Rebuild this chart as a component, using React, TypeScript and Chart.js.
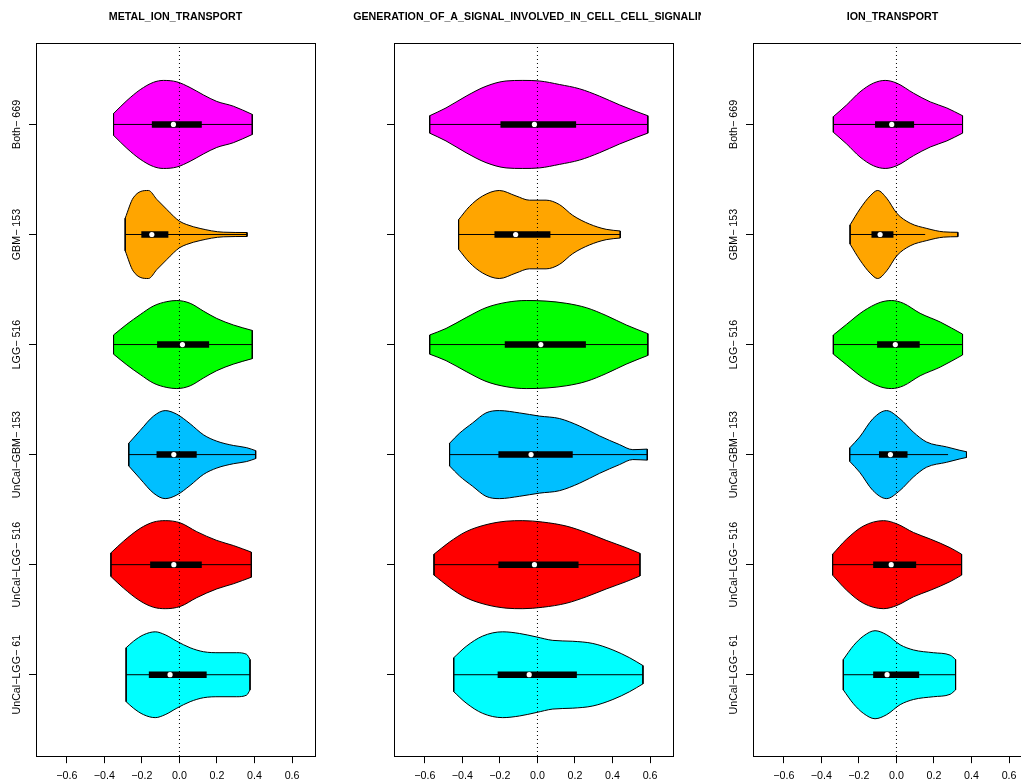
import React, { useEffect, useRef } from "react";
import { Chart, registerables } from "chart.js";

Chart.register(...registerables);

const FONT = "'Liberation Sans', Arial, Helvetica, sans-serif";

// ---------- shared ----------
const groupLabels = ["Both\u2212 669", "GBM\u2212 153", "LGG\u2212 516", "UnCal\u2212GBM\u2212 153", "UnCal\u2212LGG\u2212 516", "UnCal\u2212LGG\u2212 61"];
const groupPositions = [1, 2, 3, 4, 5, 6];
const violinColors = ["#FF00FF", "#FFA500", "#00FF00", "#00BFFF", "#FF0000", "#00FFFF"];
const xTicks = [-0.6, -0.4, -0.2, 0.0, 0.2, 0.4, 0.6];
const X_MIN = -0.764;
const X_MAX = 0.722;
const Y_MIN = 0.26;
const Y_MAX = 6.74;

// ---------- panel 1: METAL_ION_TRANSPORT ----------
const metalTitle = "METAL_ION_TRANSPORT";
const metalDensityX = [
  [-0.351, -0.28, -0.209, -0.138, -0.085, -0.014, 0.057, 0.128, 0.199, 0.287, 0.388],
  [-0.289, -0.246, -0.165, -0.12, -0.067, -0.032, 0.0, 0.039, 0.11, 0.233, 0.36],
  [-0.351, -0.28, -0.209, -0.138, -0.067, -0.014, 0.057, 0.128, 0.199, 0.287, 0.388],
  [-0.27, -0.209, -0.138, -0.076, -0.014, 0.057, 0.128, 0.199, 0.287, 0.358, 0.406],
  [-0.365, -0.298, -0.209, -0.138, -0.076, 0.004, 0.092, 0.199, 0.287, 0.383],
  [-0.284, -0.245, -0.191, -0.129, -0.076, -0.014, 0.057, 0.128, 0.216, 0.305, 0.358, 0.376],
];
const metalDensityW = [
  [0.099, 0.217, 0.316, 0.383, 0.4, 0.387, 0.335, 0.268, 0.209, 0.166, 0.091],
  [0.148, 0.333, 0.4, 0.318, 0.227, 0.167, 0.121, 0.09, 0.055, 0.021, 0.018],
  [0.087, 0.185, 0.272, 0.351, 0.39, 0.4, 0.375, 0.304, 0.237, 0.178, 0.128],
  [0.103, 0.22, 0.35, 0.4, 0.367, 0.28, 0.18, 0.122, 0.083, 0.063, 0.036],
  [0.107, 0.213, 0.33, 0.387, 0.4, 0.38, 0.3, 0.22, 0.174, 0.114],
  [0.245, 0.304, 0.363, 0.39, 0.363, 0.304, 0.245, 0.209, 0.2, 0.2, 0.185, 0.138],
];
const metalQ1 = [-0.147, -0.203, -0.119, -0.122, -0.156, -0.163];
const metalQ3 = [0.119, -0.059, 0.158, 0.092, 0.119, 0.145];
const metalMedian = [-0.032, -0.147, 0.016, -0.03, -0.03, -0.05];
const metalWhiskerLo = [-0.351, -0.289, -0.351, -0.27, -0.365, -0.284];
const metalWhiskerHi = [0.388, 0.36, 0.388, 0.406, 0.383, 0.376];

// ---------- panel 2: GENERATION_OF_A_SIGNAL... ----------
const signalTitle = "GENERATION_OF_A_SIGNAL_INVOLVED_IN_CELL_CELL_SIGNALING";
const signalDensityX = [
  [-0.574, -0.487, -0.38, -0.274, -0.167, -0.078, 0.011, 0.117, 0.224, 0.331, 0.437, 0.526, 0.588],
  [-0.42, -0.363, -0.292, -0.203, -0.114, -0.043, 0.046, 0.117, 0.188, 0.277, 0.366, 0.441],
  [-0.574, -0.487, -0.38, -0.274, -0.167, -0.06, 0.046, 0.153, 0.26, 0.366, 0.473, 0.588],
  [-0.468, -0.416, -0.345, -0.274, -0.203, -0.096, 0.011, 0.117, 0.224, 0.331, 0.437, 0.508, 0.585],
  [-0.551, -0.469, -0.38, -0.274, -0.167, -0.078, 0.028, 0.153, 0.26, 0.366, 0.473, 0.546],
  [-0.446, -0.38, -0.292, -0.185, -0.096, -0.007, 0.082, 0.188, 0.295, 0.402, 0.491, 0.562],
];
const signalDensityW = [
  [0.079, 0.15, 0.257, 0.347, 0.395, 0.4, 0.395, 0.363, 0.324, 0.257, 0.178, 0.118, 0.079],
  [0.134, 0.253, 0.35, 0.4, 0.35, 0.312, 0.312, 0.272, 0.174, 0.095, 0.047, 0.032],
  [0.087, 0.146, 0.245, 0.335, 0.383, 0.4, 0.395, 0.375, 0.335, 0.264, 0.178, 0.099],
  [0.103, 0.193, 0.288, 0.379, 0.4, 0.379, 0.35, 0.328, 0.26, 0.17, 0.091, 0.045, 0.05],
  [0.095, 0.205, 0.3, 0.363, 0.395, 0.4, 0.387, 0.351, 0.292, 0.221, 0.154, 0.103],
  [0.154, 0.257, 0.351, 0.39, 0.375, 0.344, 0.312, 0.304, 0.284, 0.225, 0.154, 0.083],
];
const signalQ1 = [-0.197, -0.229, -0.174, -0.208, -0.208, -0.212];
const signalQ3 = [0.206, 0.069, 0.258, 0.188, 0.219, 0.21];
const signalMedian = [-0.016, -0.116, 0.018, -0.034, -0.016, -0.044];
const signalWhiskerLo = [-0.574, -0.42, -0.574, -0.468, -0.551, -0.446];
const signalWhiskerHi = [0.588, 0.441, 0.588, 0.585, 0.546, 0.562];

// ---------- panel 3: ION_TRANSPORT ----------
const ionTitle = "ION_TRANSPORT";
const ionDensityX = [
  [-0.336, -0.265, -0.194, -0.123, -0.06, 0.002, 0.091, 0.18, 0.268, 0.352],
  [-0.247, -0.194, -0.14, -0.1, -0.052, 0.002, 0.073, 0.162, 0.251, 0.327],
  [-0.336, -0.265, -0.176, -0.087, -0.025, 0.037, 0.126, 0.233, 0.352],
  [-0.249, -0.196, -0.125, -0.053, 0.018, 0.089, 0.16, 0.267, 0.338, 0.373],
  [-0.34, -0.265, -0.176, -0.069, 0.002, 0.091, 0.18, 0.286, 0.347],
  [-0.283, -0.229, -0.176, -0.114, -0.052, 0.02, 0.091, 0.197, 0.286, 0.315],
];
const ionDensityW = [
  [0.071, 0.178, 0.296, 0.375, 0.4, 0.375, 0.284, 0.205, 0.15, 0.079],
  [0.087, 0.233, 0.351, 0.4, 0.33, 0.193, 0.103, 0.055, 0.024, 0.02],
  [0.087, 0.185, 0.304, 0.383, 0.4, 0.375, 0.284, 0.205, 0.095],
  [0.061, 0.16, 0.327, 0.4, 0.327, 0.206, 0.115, 0.07, 0.039, 0.026],
  [0.095, 0.233, 0.351, 0.4, 0.371, 0.292, 0.233, 0.154, 0.095],
  [0.138, 0.264, 0.351, 0.4, 0.363, 0.272, 0.225, 0.2, 0.178, 0.138],
];
const ionQ1 = [-0.114, -0.133, -0.103, -0.093, -0.124, -0.124];
const ionQ3 = [0.094, -0.016, 0.124, 0.059, 0.105, 0.121];
const ionMedian = [-0.025, -0.087, -0.006, -0.032, -0.028, -0.05];
const ionWhiskerLo = [-0.336, -0.247, -0.336, -0.249, -0.34, -0.283];
const ionWhiskerHi = [0.352, 0.153, 0.352, 0.275, 0.347, 0.315];

type PanelSpec = {
  title: string;
  dx: number[][];
  dw: number[][];
  q1: number[];
  q3: number[];
  med: number[];
  wlo: number[];
  whi: number[];
  showLabels: boolean;
  left: number;
  width: number;
  padLeft: number;
  padRight: number;
};

const panels: PanelSpec[] = [
  { title: metalTitle, dx: metalDensityX, dw: metalDensityW, q1: metalQ1, q3: metalQ3, med: metalMedian, wlo: metalWhiskerLo, whi: metalWhiskerHi, showLabels: true, left: 0, width: 340, padLeft: 29, padRight: 25 },
  { title: signalTitle, dx: signalDensityX, dw: signalDensityW, q1: signalQ1, q3: signalQ3, med: signalMedian, wlo: signalWhiskerLo, whi: signalWhiskerHi, showLabels: false, left: 340, width: 361, padLeft: 47, padRight: 28 },
  { title: ionTitle, dx: ionDensityX, dw: ionDensityW, q1: ionQ1, q3: ionQ3, med: ionMedian, wlo: ionWhiskerLo, whi: ionWhiskerHi, showLabels: true, left: 701, width: 356, padLeft: 45, padRight: 25 },
];

function buildDatasets(p: PanelSpec) {
  const ds: any[] = [];
  groupPositions.forEach((pos, g) => {
    const xs = p.dx[g];
    const ws = p.dw[g];
    const n = xs.length - 1;
    // upper outline, filled down to the lower outline (next dataset)
    ds.push({
      data: xs.map((x, i) => ({ x, y: pos - ws[i] })),
      showLine: true,
      fill: "+1",
      backgroundColor: violinColors[g],
      borderColor: "#000",
      borderWidth: 1,
      pointRadius: 0,
      cubicInterpolationMode: "monotone",
      order: 12,
    });
    // lower outline
    ds.push({
      data: xs.map((x, i) => ({ x, y: pos + ws[i] })),
      showLine: true,
      fill: false,
      borderColor: "#000",
      borderWidth: 1,
      pointRadius: 0,
      cubicInterpolationMode: "monotone",
      order: 10,
    });
    // end caps
    ds.push({
      data: [{ x: xs[0], y: pos - ws[0] }, { x: xs[0], y: pos + ws[0] }],
      showLine: true,
      fill: false,
      borderColor: "#000",
      borderWidth: 1,
      pointRadius: 0,
      order: 10,
    });
    ds.push({
      data: [{ x: xs[n], y: pos - ws[n] }, { x: xs[n], y: pos + ws[n] }],
      showLine: true,
      fill: false,
      borderColor: "#000",
      borderWidth: 1,
      pointRadius: 0,
      order: 10,
    });
  });
  ds.push({
    data: [{ x: 0, y: Y_MIN }, { x: 0, y: Y_MAX }],
    showLine: true,
    fill: false,
    borderColor: "#000",
    borderWidth: 1,
    borderDash: [1, 3],
    pointRadius: 0,
    order: 8,
  });
  groupPositions.forEach((pos, g) => {
    ds.push({
      data: [{ x: p.wlo[g], y: pos }, { x: p.whi[g], y: pos }],
      showLine: true,
      fill: false,
      borderColor: "#000",
      borderWidth: 1,
      pointRadius: 0,
      order: 6,
    });
    ds.push({
      data: [{ x: p.q1[g], y: pos }, { x: p.q3[g], y: pos }],
      showLine: true,
      fill: false,
      borderColor: "#000",
      borderWidth: 6.5,
      borderCapStyle: "butt",
      pointRadius: 0,
      order: 4,
    });
  });
  ds.push({
    data: groupPositions.map((pos, g) => ({ x: p.med[g], y: pos })),
    showLine: false,
    pointRadius: 2.6,
    pointBackgroundColor: "#fff",
    pointBorderWidth: 0,
    pointBorderColor: "#fff",
    order: 1,
  });
  return ds;
}

const decorPlugin = {
  id: "decor",
  afterDraw(chart: any, _args: any, opts: any) {
    const { ctx, chartArea: a, scales } = chart;
    ctx.save();
    ctx.strokeStyle = "#000";
    ctx.lineWidth = 1;
    const l = Math.floor(a.left) + 0.5;
    const t = Math.floor(a.top) + 0.5;
    const r = Math.floor(a.right) + 0.5;
    const b = Math.floor(a.bottom) + 0.5;
    ctx.strokeRect(l, t, r - l, b - t);
    ctx.fillStyle = "#000";
    ctx.textAlign = "center";
    ctx.textBaseline = "middle";
    ctx.font = `bold 10.7px ${FONT}`;
    ctx.fillText(opts.title, (a.left + a.right) / 2, 17.5);
    if (opts.showLabels) {
      ctx.font = `10.7px ${FONT}`;
      groupPositions.forEach((pos, g) => {
        const y = scales.y.getPixelForValue(pos);
        ctx.save();
        ctx.translate(a.left - 19, y);
        ctx.rotate(-Math.PI / 2);
        ctx.fillText(groupLabels[g], 0, 0);
        ctx.restore();
      });
    }
    ctx.restore();
  },
};

function fmt(v: number) {
  const s = Math.abs(v).toFixed(1);
  return v < -1e-9 ? "\u2212" + s : s;
}

function ViolinPanel({ spec }: { spec: PanelSpec }) {
  const ref = useRef<HTMLCanvasElement | null>(null);
  useEffect(() => {
    if (!ref.current) return;
    const chart = new Chart(ref.current, {
      type: "scatter",
      data: { datasets: buildDatasets(spec) },
      plugins: [decorPlugin as any],
      options: {
        animation: false,
        responsive: false,
        devicePixelRatio: 1,
        events: [],
        layout: { padding: { top: 43, bottom: -4, left: spec.padLeft, right: spec.padRight } },
        plugins: {
          legend: { display: false },
          tooltip: { enabled: false },
          decor: { title: spec.title, showLabels: spec.showLabels },
        } as any,
        scales: {
          x: {
            type: "linear",
            min: X_MIN,
            max: X_MAX,
            border: { display: false },
            grid: { drawOnChartArea: false, drawTicks: true, tickLength: 7, color: "#000", lineWidth: 1 },
            afterBuildTicks: (s: any) => {
              s.ticks = xTicks.map((v) => ({ value: v }));
            },
            ticks: {
              autoSkip: false,
              maxRotation: 0,
              padding: 6,
              color: "#000",
              font: { family: FONT, size: 10.7 },
              callback: (v: any) => fmt(Number(v)),
            },
          },
          y: {
            type: "linear",
            reverse: true,
            min: Y_MIN,
            max: Y_MAX,
            border: { display: false },
            grid: { drawOnChartArea: false, drawTicks: true, tickLength: 7, color: "#000", lineWidth: 1 },
            afterBuildTicks: (s: any) => {
              s.ticks = groupPositions.map((v) => ({ value: v }));
            },
            ticks: { display: false },
          },
        },
      } as any,
    });
    return () => chart.destroy();
  }, [spec]);
  return (
    <canvas
      ref={ref}
      width={spec.width}
      height={784}
      style={{ position: "absolute", left: spec.left, top: 0, width: spec.width, height: 784 }}
    />
  );
}

export default function App() {
  return (
    <div
      style={{
        position: "fixed",
        left: 0,
        top: 0,
        width: 1021,
        height: 784,
        overflow: "hidden",
        background: "#fff",
      }}
    >
      {panels.map((p) => (
        <ViolinPanel key={p.title} spec={p} />
      ))}
    </div>
  );
}
